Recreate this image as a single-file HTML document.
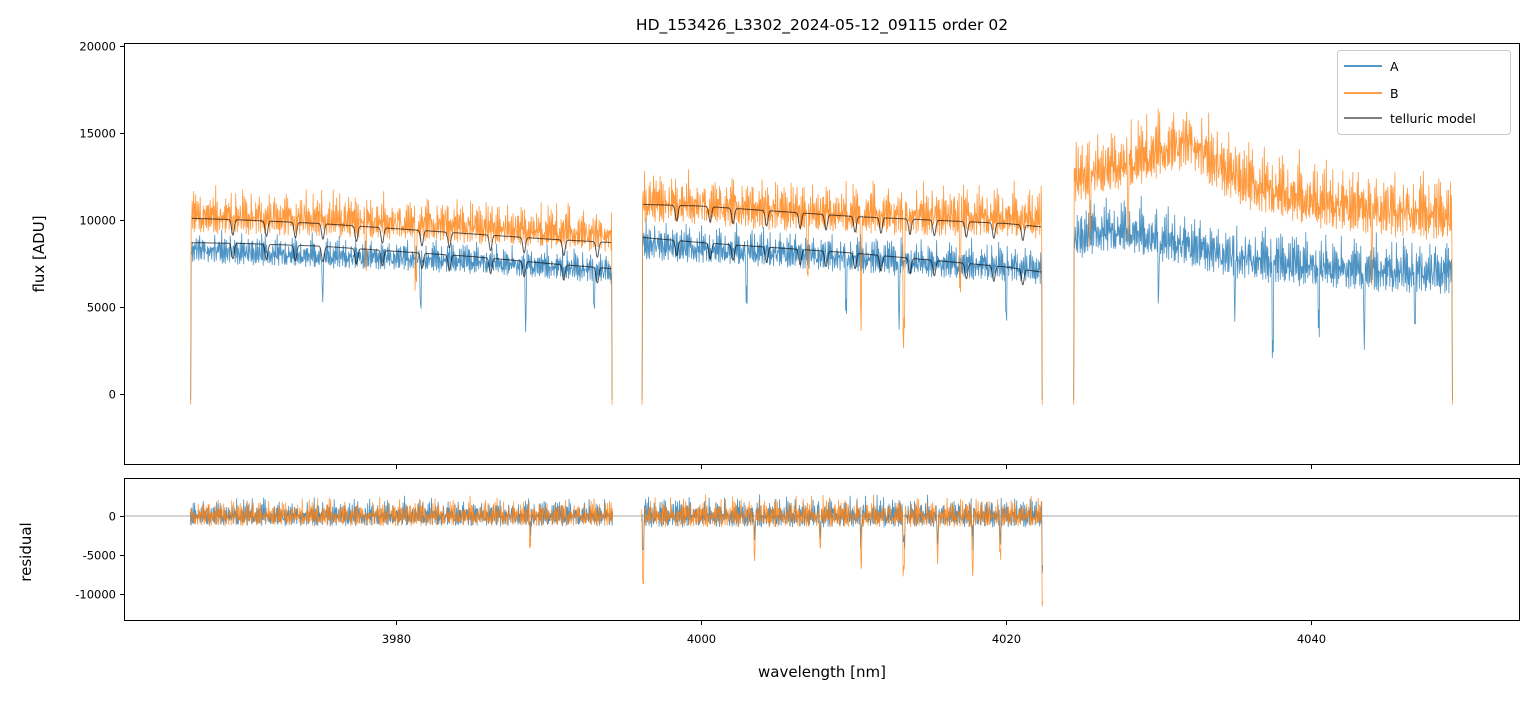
<!DOCTYPE html>
<html><head><meta charset="utf-8">
<style>
body{margin:0;background:#fff;font-family:"Liberation Sans","DejaVu Sans",sans-serif;}
svg text{font-family:"DejaVu Sans","Liberation Sans",sans-serif;fill:#000;}
</style></head>
<body>
<svg id="chart" width="1534" height="696" xmlns="http://www.w3.org/2000/svg">
<rect width="1534" height="696" fill="#fff"/>
<text x="822" y="30" font-size="15.5" text-anchor="middle">HD_153426_L3302_2024-05-12_09115  order 02</text>
<g id="main"></g>
<g id="resid"></g>
<rect x="124.5" y="43.5" width="1395" height="421" fill="none" stroke="#000" stroke-width="1"/>
<rect x="124.5" y="478.5" width="1395" height="142" fill="none" stroke="#000" stroke-width="1"/>
<g id="axes"></g>
<text transform="translate(44,254) rotate(-90)" font-size="15" text-anchor="middle">flux [ADU]</text>
<text transform="translate(31,552) rotate(-90)" font-size="15" text-anchor="middle">residual</text>
<text x="822" y="677" font-size="15" text-anchor="middle">wavelength [nm]</text>
<g>
<rect x="1337.5" y="50.5" width="173" height="84" rx="3" fill="#fff" fill-opacity="0.85" stroke="#ccc"/>
<line x1="1344" y1="66" x2="1382" y2="66" stroke="#1f77b4" stroke-width="1.5"/>
<text x="1390" y="71" font-size="12.5">A</text>
<line x1="1344" y1="93" x2="1382" y2="93" stroke="#ff7f0e" stroke-width="1.5"/>
<text x="1390" y="98" font-size="12.5">B</text>
<line x1="1344" y1="118" x2="1382" y2="118" stroke="#555" stroke-width="1.5"/>
<text x="1390" y="123" font-size="12.5">telluric model</text>
</g>
</svg>
<script>
// segment knots (wavelength nm)
const seg1W=[3966.5,3970,3975,3980,3985,3990,3994.2];
const seg2W=[3996.1,4000,4005,4010,4015,4020,4022.4];
const seg3W=[4024.4,4026,4028,4030,4032,4034,4036,4040,4045,4049.3];
// mean levels
const aSeg1=[8300,8100,7900,7800,7600,7300,7000];
const bSeg1=[10200,10100,10000,9800,9600,9300,9100];
const aSeg2=[8600,8300,8100,7800,7500,7300,7100];
const bSeg2=[11000,10800,10500,10300,10200,10100,10000];
const aSeg3=[8800,9300,9300,8800,8500,8000,7700,7300,7000,6900];
const bSeg3=[12200,12800,13200,13800,14500,13000,12000,11000,10500,10200];
// noise spreads
const aSpread=[1000,1200,1700];
const bSpread=[1400,1600,2100];
// telluric models
const tA1=[8700,8650,8500,8200,7900,7500,7200];
const tB1=[10100,10000,9800,9500,9200,8900,8700];
const tA2=[9000,8700,8400,8100,7700,7300,7000];
const tB2=[10900,10800,10500,10200,10000,9800,9600];
// downward spikes (wavelength, depth)
const spikeA=[[3975.2,2200],[3981.6,2800],[3988.5,3200],[3993,1800],[4003,2500],[4009.5,3000],[4013,3200],[4020,2500],[4030,2800],[4035,3000],[4037.5,5000],[4040.5,3200],[4043.5,3500],[4046.8,3000]];
const spikeB=[[3978,2200],[3981.3,3200],[4007,3500],[4010.5,5800],[4013.3,6800],[4017,3500],[4025.5,3000],[4028,3500],[4044,3000]];
const tellDips=[3969.3,3971.5,3973.4,3975.2,3977.4,3979.1,3981.7,3983.5,3986.2,3988.4,3991,3993.2,3998.4,4000.6,4002.1,4004.3,4006.5,4008.2,4010.1,4011.8,4013.7,4015.3,4017.4,4019.2,4021.1];
// residuals spread
const resSpread=[1900,2100];
const resSpikes=[[3988.8,3500],[3996.2,8800],[4003.5,4500],[4007.8,4000],[4010.5,5500],[4013.3,7000],[4015.5,5500],[4017.8,6500],[4019.6,5000],[4022.4,12500]];
// hand-read jitter patterns
const jit1=[0.3,-0.8,0.9,-0.2,0.5,-1,0.7,0.1,-0.6,1,-0.4,0.2,0.8,-0.9,0.4,-0.3,0.95,-0.7,0.1,0.6,-0.5,-0.1,0.85,-0.95,0.35,0.55,-0.45,0.15,-0.85,0.7,-0.25,0.45,-0.65,0.9,-0.05,0.25,-0.75,0.65,-0.35,0.05,0.75,-0.55,0.4,-0.9,0.2,0.6,-0.15];
const jit2=[-0.5,0.6,-0.1,0.9,-0.7,0.3,-0.95,0.45,0.15,-0.35,0.8,-0.6,0.25,-0.2,0.7,-0.85,0.5,0.05,-0.4,0.95,-0.65,0.35,-0.15,0.55,-0.75,0.1,0.85,-0.3,0.4,-0.55,0.65];

const X=w=>124+(w-3962.16)*15.25;
const Y=v=>394-v*0.0174;
const YR=v=>516-v*0.0078;
const NS="http://www.w3.org/2000/svg";
function interp(ws,vs,w){if(w<=ws[0])return vs[0];for(let i=1;i<ws.length;i++){if(w<=ws[i]){const t=(w-ws[i-1])/(ws[i]-ws[i-1]);return vs[i-1]+t*(vs[i]-vs[i-1]);}}return vs[vs.length-1];}
function path(parent,d,color,op,sw,name){const p=document.createElementNS(NS,'path');p.setAttribute('d',d);p.setAttribute('fill','none');p.setAttribute('stroke',color);p.setAttribute('stroke-opacity',op);p.setAttribute('stroke-width',sw);p.setAttribute('stroke-linejoin','bevel');


parent.appendChild(p);}
function spikeAt(sp,w){let s=0;for(const [sw,d] of sp){if(Math.abs(w-sw)<0.05)s=Math.max(s,d);}return s;}
function spec(ws,vs,spread,sp,yf,off,edge){let d='';const w0=ws[0],w1=ws[ws.length-1];const n=Math.round((w1-w0)*15.25*2);
for(let i=0;i<=n;i++){const w=w0+(w1-w0)*i/n;const j1=jit1[(i+off)%jit1.length],j2=jit2[(i*3+off)%jit2.length];let v=interp(ws,vs,w)+spread*(0.6*j1+0.45*j2+0.35*j1*j2*Math.abs(j1));v-=spikeAt(sp,w);
if(edge&&(i<2||i>n-2))v=edge;d+=(i?'L':'M')+X(w).toFixed(1)+','+yf(v).toFixed(1);}return d;}
function tell(ws,vs){let d='';const w0=ws[0]+0.1,w1=ws[ws.length-1]-0.1;const n=Math.round((w1-w0)*15.25*2);
for(let i=0;i<=n;i++){const w=w0+(w1-w0)*i/n;let v=interp(ws,vs,w);for(const t of tellDips){const dd=(w-t)/0.12;v-=900*Math.exp(-dd*dd);}d+=(i?'L':'M')+X(w).toFixed(1)+','+Y(v).toFixed(1);}return d;}
const main=document.getElementById('main'),res=document.getElementById('resid');
const segs=[[seg1W,aSeg1,bSeg1],[seg2W,aSeg2,bSeg2],[seg3W,aSeg3,bSeg3]];
segs.forEach((s,k)=>{path(main,spec(s[0],s[1],aSpread[k],spikeA,Y,k*7,-300),'#1f77b4',0.8,0.8,'series-a-segment-'+(k+1));});
segs.forEach((s,k)=>{path(main,spec(s[0],s[2],bSpread[k],spikeB,Y,k*11+5,-600),'#ff7f0e',0.8,0.8,'series-b-segment-'+(k+1));});
[[seg1W,tA1],[seg1W,tB1],[seg2W,tA2],[seg2W,tB2]].forEach((t,k)=>path(main,tell(t[0],t[1]),'#000',0.65,1,'telluric-model-'+(k+1)));
const zl=document.createElementNS(NS,'line');zl.setAttribute('x1',124);zl.setAttribute('x2',1520);zl.setAttribute('y1',YR(0));zl.setAttribute('y2',YR(0));zl.setAttribute('stroke','#555');zl.setAttribute('stroke-width',0.6);


res.appendChild(zl);
[seg1W,seg2W].forEach((ws,k)=>{const z=ws.map(()=>0);
path(res,spec(ws,z,resSpread[k],resSpikes.map(a=>[a[0],a[1]*0.5]),YR,k*5+3,0),'#1f77b4',0.8,0.8,'residual-a-segment-'+(k+1));
path(res,spec(ws,z,resSpread[k],resSpikes,YR,k*9+13,0),'#ff7f0e',0.8,0.8,'residual-b-segment-'+(k+1));});
const ax=document.getElementById('axes');
function tx(x,y,s,anchor,name){const t=document.createElementNS(NS,'text');t.setAttribute('x',x);t.setAttribute('y',y);t.setAttribute('font-size','11.5');t.setAttribute('text-anchor',anchor);t.textContent=s;


ax.appendChild(t);}
function tk(x1,y1,x2,y2){const l=document.createElementNS(NS,'line');l.setAttribute('x1',x1);l.setAttribute('y1',y1);l.setAttribute('x2',x2);l.setAttribute('y2',y2);l.setAttribute('stroke','#000');ax.appendChild(l);}
const xTicks=[3980,4000,4020,4040];
const yTicks=[0,5000,10000,15000,20000];
const rTicks=[0,-5000,-10000];
xTicks.forEach(w=>{const x=Math.round(X(w))+0.5;tk(x,465,x,469);tk(x,621,x,625);tx(x,643,String(w),'middle','x-tick-label');});
yTicks.forEach(v=>{const y=Math.round(Y(v))+0.5;tk(120,y,124,y);tx(116,y+4,String(v),'end','y-tick-label');});
rTicks.forEach(v=>{const y=Math.round(YR(v))+0.5;tk(120,y,124,y);tx(116,y+4,String(v),'end','residual-tick-label');});
</script>
</body></html>
